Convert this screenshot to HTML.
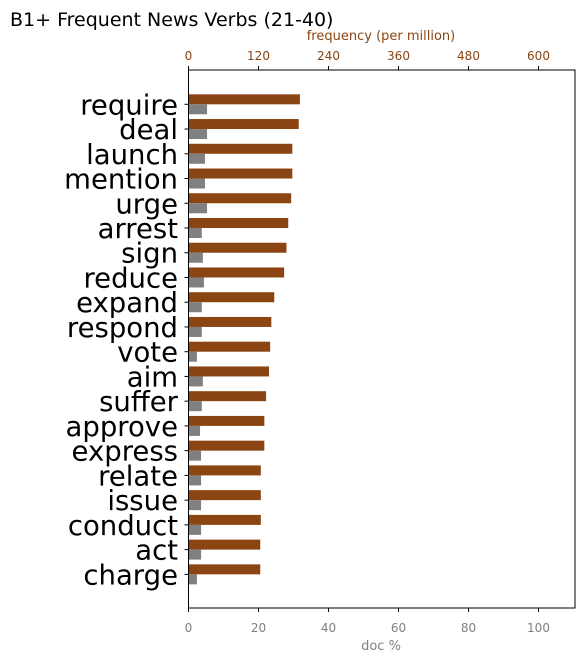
<!DOCTYPE html>
<html><head><meta charset="utf-8"><style>
body{margin:0;background:#fff;width:585px;height:662px;overflow:hidden}
svg{font-family:"DejaVu Sans","Liberation Sans",sans-serif}
</style></head><body>
<svg id="c" width="585" height="662"></svg>
<script>
const categories=["require","deal","launch","mention","urge","arrest","sign","reduce","expand","respond","vote","aim","suffer","approve","express","relate","issue","conduct","act","charge"];
const freqValues=[191,189,178,178,176,171,168,164,147,142,140,138,133,130,130,124,124,124,123,123];
const docValues=[5.3,5.3,4.7,4.7,5.3,3.8,4.1,4.4,3.8,3.8,2.4,4.1,3.8,3.3,3.6,3.6,3.6,3.6,3.6,2.4];
const docTicks=[0,20,40,60,80,100];
const freqTicks=[0,120,240,360,480,600];
const NS="http://www.w3.org/2000/svg",svg=document.getElementById("c");
const L=188.5,R=575,T=70,B=608;
const xDoc=v=>L+v*3.5;
const xF=v=>L+v*(350/600);
const yC=i=>104.3+i*24.74;
function el(t,a,txt){const e=document.createElementNS(NS,t);for(const k in a)e.setAttribute(k,a[k]);if(txt!=null)e.textContent=txt;svg.appendChild(e);return e;}
let e;
e=el("text",{x:10,y:26,"font-size":19,fill:"#000"},"B1+ Frequent News Verbs (21-40)");

categories.forEach((c,i)=>{
 const y=yC(i);
 e=el("rect",{x:L,y:y-10,width:xF(freqValues[i])-L,height:10,fill:"#8B4513"});
 
 e=el("rect",{x:L,y:y,width:xDoc(docValues[i])-L,height:10,fill:"#808080"});
 
 el("line",{x1:L-4,x2:L,y1:y,y2:y,stroke:"#000"});
 e=el("text",{x:178,y:y+10,"font-size":27.5,"text-anchor":"end",fill:"#000"},c);
 
});
e=el("rect",{x:L,y:T,width:R-L,height:B-T,fill:"none",stroke:"#000","stroke-width":1});

docTicks.forEach(v=>{const x=xDoc(v);el("line",{x1:x,x2:x,y1:B,y2:B+4,stroke:"#000"});
 e=el("text",{x:x,y:B+24,"font-size":12,"text-anchor":"middle",fill:"#808080"},v);
 });
freqTicks.forEach(v=>{const x=xF(v);el("line",{x1:x,x2:x,y1:T,y2:T-4,stroke:"#000"});
 e=el("text",{x:x,y:T-10,"font-size":12,"text-anchor":"middle",fill:"#8B4513"},v);
 });
e=el("text",{x:381,y:650,"font-size":13,"text-anchor":"middle",fill:"#808080"},"doc %");

e=el("text",{x:381,y:40,"font-size":13,"text-anchor":"middle",fill:"#8B4513"},"frequency (per million)");

</script>
</body></html>
